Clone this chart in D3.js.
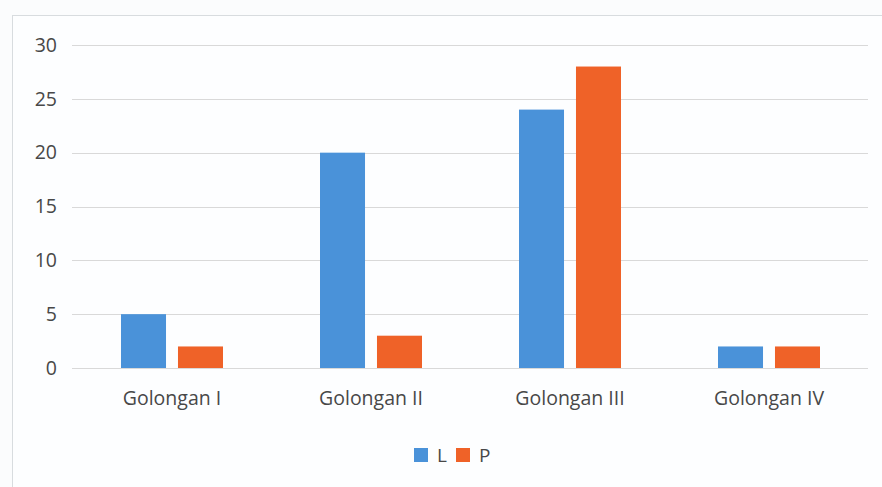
<!doctype html>
<html>
<head>
<meta charset="utf-8">
<script src="https://d3js.org/d3.v7.min.js"></script>
<style>
  body { margin:0; background:#fbfcfd; }
  text { font-family:"Open Sans", sans-serif; fill:#484848; }
</style>
</head>
<body>
<script>
// data
var categories = ["Golongan I", "Golongan II", "Golongan III", "Golongan IV"];
var seriesNames = ["L", "P"];
var valuesL = [5, 20, 24, 2];
var valuesP = [2, 3, 28, 2];
var yTicks = [0, 5, 10, 15, 20, 25, 30];
var colors = ["#4a92d9", "#ef6228"];

var width = 882, height = 487;
var svg = d3.select("body").append("svg").attr("width", width).attr("height", height);

// chart frame
svg.append("rect").attr("x", 12.5).attr("y", 15.5).attr("width", width).attr("height", height)
  .attr("fill", "#fdfeff").attr("stroke", "#d8dcdf");

var x = d3.scaleBand().domain(categories).range([72.5, 868.5]).paddingInner(0).paddingOuter(0);
var x1 = d3.scaleBand().domain(seriesNames).range([48.5, 150.5]).paddingInner(0.21);
var y = d3.scaleLinear().domain([0, 30]).range([368, 45]);

// grid
svg.append("g").attr("class", "grid").selectAll("line").data(yTicks).enter().append("line")
  .attr("x1", 72).attr("x2", 868)
  .attr("y1", d => Math.round(y(d)) + 0.5).attr("y2", d => Math.round(y(d)) + 0.5)
  .attr("stroke", "#d9d9d9").attr("stroke-width", 1);

// y labels
svg.append("g").selectAll("text").data(yTicks).enter().append("text")
  .attr("x", 57).attr("y", d => y(d)).attr("dy", "0.35em")
  .attr("text-anchor", "end").style("font-size", "19.5px").text(d => d);

// bars
var table = categories.map((c, i) => ({ cat: c, vals: [valuesL[i], valuesP[i]] }));
var groups = svg.append("g").selectAll("g").data(table).enter().append("g")
  .attr("transform", d => "translate(" + x(d.cat) + ",0)");
groups.selectAll("rect").data(d => d.vals.map((v, j) => ({ s: seriesNames[j], v: v, j: j })))
  .enter().append("rect")
  .attr("x", d => x1(d.s)).attr("width", x1.bandwidth())
  .attr("y", d => y(d.v)).attr("height", d => y(0) - y(d.v))
  .attr("fill", d => colors[d.j]);

// x labels
svg.append("g").selectAll("text").data(categories).enter().append("text")
  .attr("x", d => x(d) + x.bandwidth() / 2).attr("y", 398).attr("dy", "0.35em")
  .attr("text-anchor", "middle").style("font-size", "19.5px").text(d => d);

// legend
var legendX = [414, 456];
var legend = svg.append("g").selectAll("g").data(seriesNames).enter().append("g")
  .attr("transform", (d, i) => "translate(" + legendX[i] + ",448)");
legend.append("rect").attr("width", 14).attr("height", 14).attr("fill", (d, i) => colors[i]);
legend.append("text").attr("x", 23).attr("y", 7).attr("dy", "0.35em")
  .style("font-size", "19px").text(d => d);
</script>
</body>
</html>
